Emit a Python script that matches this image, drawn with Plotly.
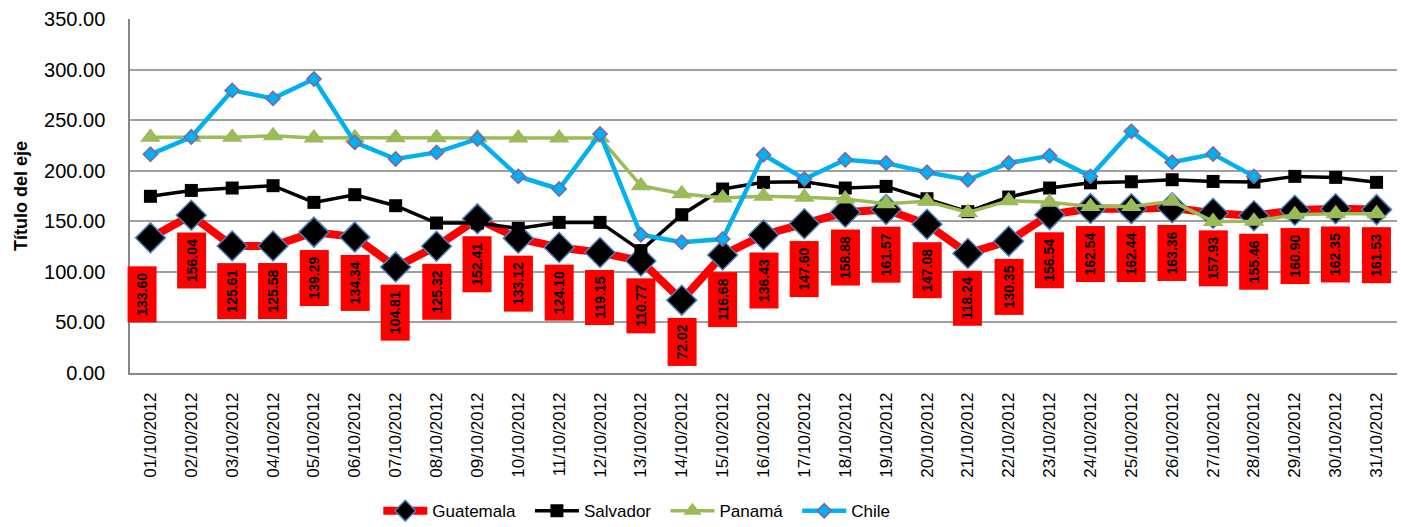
import plotly.graph_objects as go

dates = [f"{d:02d}/10/2012" for d in range(1, 32)]

guatemala = [133.60, 156.04, 125.61, 125.58, 139.29, 134.34, 104.81, 125.32, 152.41, 133.12,
             124.10, 119.15, 110.77, 72.02, 116.68, 136.43, 147.60, 158.88, 161.57, 147.08,
             118.24, 130.35, 156.54, 162.54, 162.44, 163.36, 157.93, 155.46, 160.90, 162.35, 161.53]
salvador = [174.7, 180.5, 182.9, 185.2, 168.7, 176.3, 165.4, 148.3, 148.3, 143.0,
            148.9, 148.9, 121.0, 156.5, 181.9, 188.5, 189.1, 182.9, 184.5, 172.3,
            159.5, 174.0, 182.9, 188.0, 189.1, 191.1, 189.4, 188.8, 194.4, 193.4, 188.5]
panama = [233.0, 233.0, 233.0, 234.6, 232.3, 232.5, 232.5, 232.5, 232.5, 232.3,
          232.3, 232.3, 185.2, 177.3, 173.0, 174.7, 173.7, 172.0, 167.4, 169.7,
          158.8, 170.4, 168.7, 164.7, 164.7, 169.7, 149.9, 150.0, 156.5, 157.5, 157.5]
chile = [216.2, 233.3, 279.4, 271.5, 290.6, 228.0, 211.6, 218.1, 231.4, 194.4,
         181.9, 236.3, 136.7, 129.2, 132.5, 215.8, 191.8, 210.9, 207.6, 198.4,
         191.1, 207.6, 214.8, 194.4, 238.9, 208.3, 216.5, 194.4, None, None, None]

font = "Liberation Sans, Arial"
pad = "\u00a0\u00a0"

fig = go.Figure()
fig.add_trace(go.Scatter(
    x=dates, y=guatemala, name="Guatemala" + pad, mode="lines+markers",
    line=dict(color="#FF0000", width=8),
    marker=dict(symbol="diamond", size=23, color="#000000", line=dict(color="#4F81BD", width=1.5)),
))
fig.add_trace(go.Scatter(
    x=dates, y=salvador, name="Salvador" + pad, mode="lines+markers",
    line=dict(color="#000000", width=3.5),
    marker=dict(symbol="square", size=13, color="#000000"),
))
fig.add_trace(go.Scatter(
    x=dates, y=panama, name="Panamá" + pad, mode="lines+markers",
    line=dict(color="#9BBB59", width=3.5),
    marker=dict(symbol="triangle-up", size=18, color="#9BBB59"),
))
fig.add_trace(go.Scatter(
    x=dates, y=chile, name="Chile", mode="lines+markers",
    line=dict(color="#00B0F0", width=4.5),
    marker=dict(symbol="diamond", size=11, color="#00B0F0", line=dict(color="#8064A2", width=1.5)),
))

annotations = []
for i, (d, v) in enumerate(zip(dates, guatemala)):
    annotations.append(dict(
        x=d, y=v, xref="x", yref="y", text=f"<b>{v:.2f}</b>", showarrow=False,
        textangle=-90, bgcolor="#FF0000", font=dict(family=font, size=14, color="#000000"),
        borderpad=6, yshift=-28 if i == 0 else -17, xshift=-8 if i == 0 else 0,
        yanchor="top", xanchor="center",
    ))

fig.update_layout(
    width=1401, height=527,
    margin=dict(l=130, r=4, t=19, b=154, autoexpand=False),
    paper_bgcolor="white", plot_bgcolor="white",
    font=dict(family=font, color="#000000"),
    showlegend=True,
    legend=dict(orientation="h", x=0.40, xanchor="center", yref="container", y=0.03, yanchor="middle",
                font=dict(size=17, family=font), itemwidth=44, traceorder="normal"),
    annotations=annotations,
    xaxis=dict(type="category", range=[-0.5, 30.5], tickangle=-90, tickfont=dict(size=17),
               showgrid=False, showline=True, linecolor="#868686", linewidth=1.5,
               ticks="", ticklabelstandoff=11, automargin=False),
    yaxis=dict(range=[0, 350], dtick=50, tickformat=".2f", tickfont=dict(size=20),
               showgrid=True, gridcolor="#A0A0A0", gridwidth=1.5,
               showline=True, linecolor="#868686", linewidth=1.5, zeroline=False,
               ticks="", ticklabelstandoff=19, automargin=False,
               title=dict(text="<b>Título del eje</b>", font=dict(size=18), standoff=12)),
)

fig.write_html("out.html", config={"displayModeBar": False},
               post_script="document.body.style.margin='0';document.body.style.overflow='hidden';")
